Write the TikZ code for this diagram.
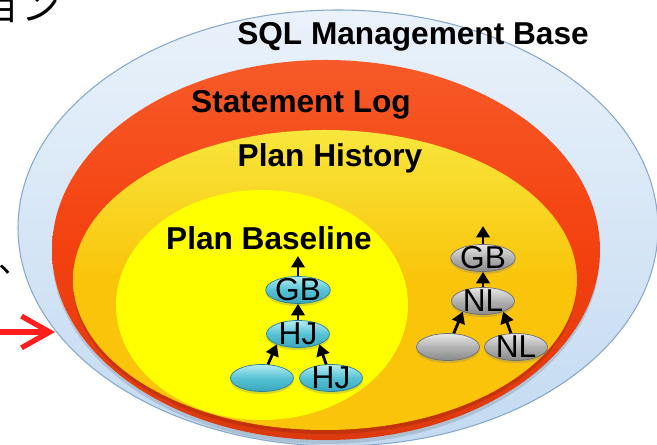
\documentclass[tikz,border=0pt]{standalone}
\usepackage{fontspec}
\setmainfont{Liberation Sans}
\newfontfamily\jpfont{Noto Sans CJK JP}
\usetikzlibrary{arrows.meta,positioning,shadows,shapes.geometric}
\definecolor{smbTop}{HTML}{EAF2FB}
\definecolor{smbBot}{HTML}{C3DAF1}
\definecolor{smbEdge}{HTML}{86A8CB}
\definecolor{logRedTop}{HTML}{F65A28}
\definecolor{logRed}{HTML}{F4400F}
\definecolor{histTop}{HTML}{F8E63C}
\definecolor{histGold}{HTML}{F9C40A}
\definecolor{baseYellow}{HTML}{FFFF00}
\definecolor{cyanTop}{HTML}{B9ECF3}
\definecolor{cyanMid}{HTML}{55C3D5}
\definecolor{cyanBot}{HTML}{3AA6BC}
\definecolor{cyanEdge}{HTML}{2C8196}
\definecolor{grayTop}{HTML}{E8E8E8}
\definecolor{grayMid}{HTML}{B2B2B2}
\definecolor{grayBot}{HTML}{8A8A8A}
\definecolor{grayEdge}{HTML}{6F6F6F}
\definecolor{arrowRed}{HTML}{FF1E1E}

\tikzset{
  ringlabel/.style={font=\bfseries\fontsize{18}{18}\selectfont,inner sep=0pt},
  jptext/.style={font=\jpfont\fontsize{22}{22}\selectfont,inner sep=0pt},
  opnode/.style={ellipse,line width=.4pt,minimum width=1.26cm,minimum height=.54cm,
    inner xsep=0pt,inner ysep=-4pt,font=\fontsize{18}{18}\selectfont,
    drop shadow={shadow xshift=0pt,shadow yshift=-1.5pt,opacity=.3}},
  cyannode/.style={opnode,draw=cyanEdge,top color=cyanTop,bottom color=cyanBot,middle color=cyanMid},
  graynode/.style={opnode,draw=grayEdge,top color=grayTop,bottom color=grayBot,middle color=grayMid},
  treearrow/.style={-{Triangle[length=6.5pt,width=7.5pt]},line width=1.6pt},
  redarrow/.style={-{Straight Barb[length=16pt,width=18pt]},line width=3pt,draw=arrowRed}
}

\begin{document}
\begin{tikzpicture}[x=0.02cm,y=-0.02cm]
  \useasboundingbox (0,0) rectangle (657,445);

  % nested areas
  \shade[top color=smbTop,bottom color=smbBot] (338,228) ellipse [x radius=320,y radius=218];
  \draw[smbEdge,line width=.6pt] (338,228) ellipse [x radius=320,y radius=218];
  \fill[black,opacity=.12] (326,254) ellipse [x radius=274,y radius=190];
  \shade[top color=logRedTop,bottom color=logRed!90!black,middle color=logRed] (326,250) ellipse [x radius=274,y radius=190];
  \fill[black,opacity=.12] (325,284) ellipse [x radius=252,y radius=150];
  \shade[top color=histTop,bottom color=histGold,middle color=histGold] (325,280) ellipse [x radius=252,y radius=150];
  \fill[baseYellow] (262,305) ellipse [x radius=146,y radius=115];

  \node[ringlabel,anchor=base] (smb) at (413,45) {SQL Management Base};
  \node[ringlabel,anchor=base] (stmtlog) at (301,113) {Statement Log};
  \node[ringlabel,anchor=base] (history) at (330,167) {Plan History};
  \node[ringlabel,anchor=base] (baseline) at (269,250) {Plan Baseline};

  % text cut at the border
  \node[jptext,anchor=base east] (jp-top) at (61,21) {ション};
  \node[jptext,font=\jpfont\fontsize{19}{19}\selectfont,anchor=base west] (jp-comma) at (-2,273) {、};
  \coordinate (in-start) at (0,332);
  \coordinate (in-end) at (55,332);
  \draw[redarrow] (in-start) -- (in-end);

  % accepted plan
  \node[cyannode] (bl-gb) at (298,290) {GB};
  \node[cyannode] (bl-hj) at (298,334) {HJ};
  \node[cyannode] (bl-leaf) at (262,378) {};
  \node[cyannode] (bl-hj2) at (331,378) {HJ};
  \coordinate (bl-out) at (298,256);

  % other plan
  \node[graynode] (ph-gb) at (483,258) {GB};
  \node[graynode] (ph-nl) at (483,301) {NL};
  \node[graynode] (ph-leaf) at (448,347) {};
  \node[graynode] (ph-nl2) at (516,347) {NL};
  \coordinate (ph-out) at (483,226);

  \foreach \a/\b in {bl-gb/bl-out,bl-hj/bl-gb,bl-leaf/bl-hj.206,bl-hj2/bl-hj.334,
                     ph-gb/ph-out,ph-nl/ph-gb,ph-leaf/ph-nl.208,ph-nl2/ph-nl.332}
    \draw[treearrow] (\a) -- (\b);
\end{tikzpicture}
\end{document}
